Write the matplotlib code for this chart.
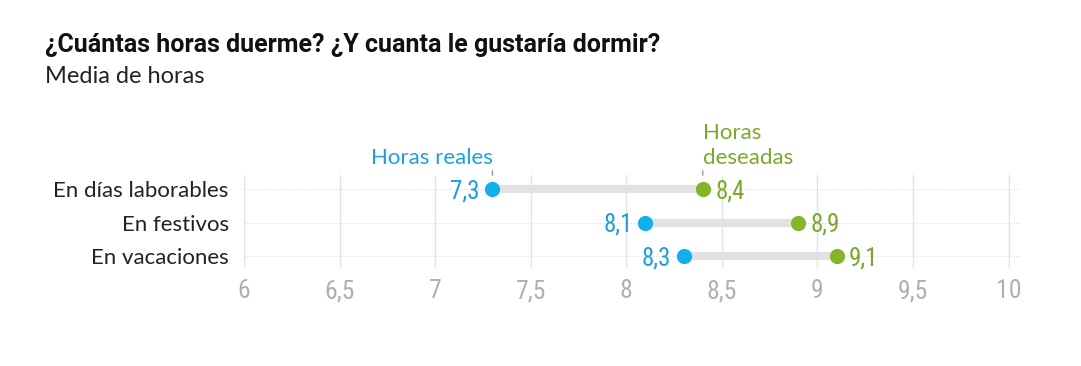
import matplotlib
matplotlib.use("Agg")
import matplotlib.pyplot as plt

# data
categorias = ["En días laborables", "En festivos", "En vacaciones"]
horas_reales = [7.3, 8.1, 8.3]
horas_deseadas = [8.4, 8.9, 9.1]
ticks = [6, 6.5, 7, 7.5, 8, 8.5, 9, 9.5, 10]
tick_labels = ["6", "6,5", "7", "7,5", "8", "8,5", "9", "9,5", "10"]

AZUL = "#0fb0ec"
AZUL_TXT = "#1e9fdc"
VERDE = "#82b52a"
VERDE_TXT = "#7aa92a"
GRIS = "#b0b0b0"

NARROW = ["Roboto Condensed", "Roboto", "DejaVu Sans"]
plt.rcParams["font.family"] = ["Lato", "DejaVu Sans"]

fig = plt.figure(figsize=(10.81, 3.66), dpi=100)
ax = fig.add_axes([244 / 1081, 98 / 366, 776 / 1081, 93 / 366])

ypos = list(range(len(categorias)))

# gridlines
for t in ticks:
    ax.axvline(t, color="#e3e3e3", lw=1, zorder=0)
for y in ypos:
    ax.axhline(y, color="#dcdcdc", lw=0.8, ls=(0, (1, 1.5)), zorder=0)

# connectors and dots
for y, a, b in zip(ypos, horas_reales, horas_deseadas):
    ax.plot([a, b], [y, y], color="#e2e2e2", lw=6, solid_capstyle="butt", zorder=1)
ax.scatter(horas_reales, ypos, s=120, color=AZUL, zorder=3, linewidths=0)
ax.scatter(horas_deseadas, ypos, s=120, color=VERDE, zorder=3, linewidths=0)

# value labels
for y, a, b in zip(ypos, horas_reales, horas_deseadas):
    ax.annotate(("%.1f" % a).replace(".", ","), (a, y), xytext=(-9, -1.5),
                textcoords="offset points", ha="right", va="center",
                fontsize=18, color=AZUL_TXT, family=NARROW)
    ax.annotate(("%.1f" % b).replace(".", ","), (b, y), xytext=(9, -1.5),
                textcoords="offset points", ha="left", va="center",
                fontsize=18, color=VERDE_TXT, family=NARROW)

ax.set_xlim(6, 10.06)
ax.set_ylim(2.36, -0.42)
ax.set_xticks(ticks)
ax.set_xticklabels(tick_labels, fontsize=18.5, color=GRIS, family=NARROW)
ax.set_yticks(ypos)
ax.set_yticklabels(categorias, fontsize=16, color="#222222")
ax.tick_params(axis="both", length=0)
ax.tick_params(axis="y", pad=11)
ax.tick_params(axis="x", pad=8)
for s in ax.spines.values():
    s.set_visible(False)

# series annotations above first row
ax.annotate("Horas reales", (horas_reales[0], -0.42), xytext=(0, 8),
            textcoords="offset points", ha="right", va="baseline",
            fontsize=16, color=AZUL_TXT, annotation_clip=False)
ax.annotate("", (horas_reales[0], -0.33), xytext=(horas_reales[0], -0.63),
            arrowprops=dict(arrowstyle="-", color="#999999", lw=1),
            annotation_clip=False)
ax.annotate("Horas\ndeseadas", (horas_deseadas[0], -0.42), xytext=(0, 8),
            textcoords="offset points", ha="left", va="baseline",
            fontsize=16, color=VERDE_TXT, linespacing=1.3,
            annotation_clip=False)
ax.annotate("", (horas_deseadas[0], -0.33), xytext=(horas_deseadas[0], -0.63),
            arrowprops=dict(arrowstyle="-", color="#999999", lw=1),
            annotation_clip=False)

# titles
fig.text(45 / 1081, 1 - 52 / 366, "¿Cuántas horas duerme? ¿Y cuanta le gustaría dormir?",
         fontsize=18, fontweight="bold", color="#111111", family=["Roboto", "DejaVu Sans"],
         ha="left", va="baseline")
fig.text(45 / 1081, 1 - 83 / 366, "Media de horas", fontsize=17,
         color="#222222", ha="left", va="baseline")

fig.savefig("out.png", dpi=100)
